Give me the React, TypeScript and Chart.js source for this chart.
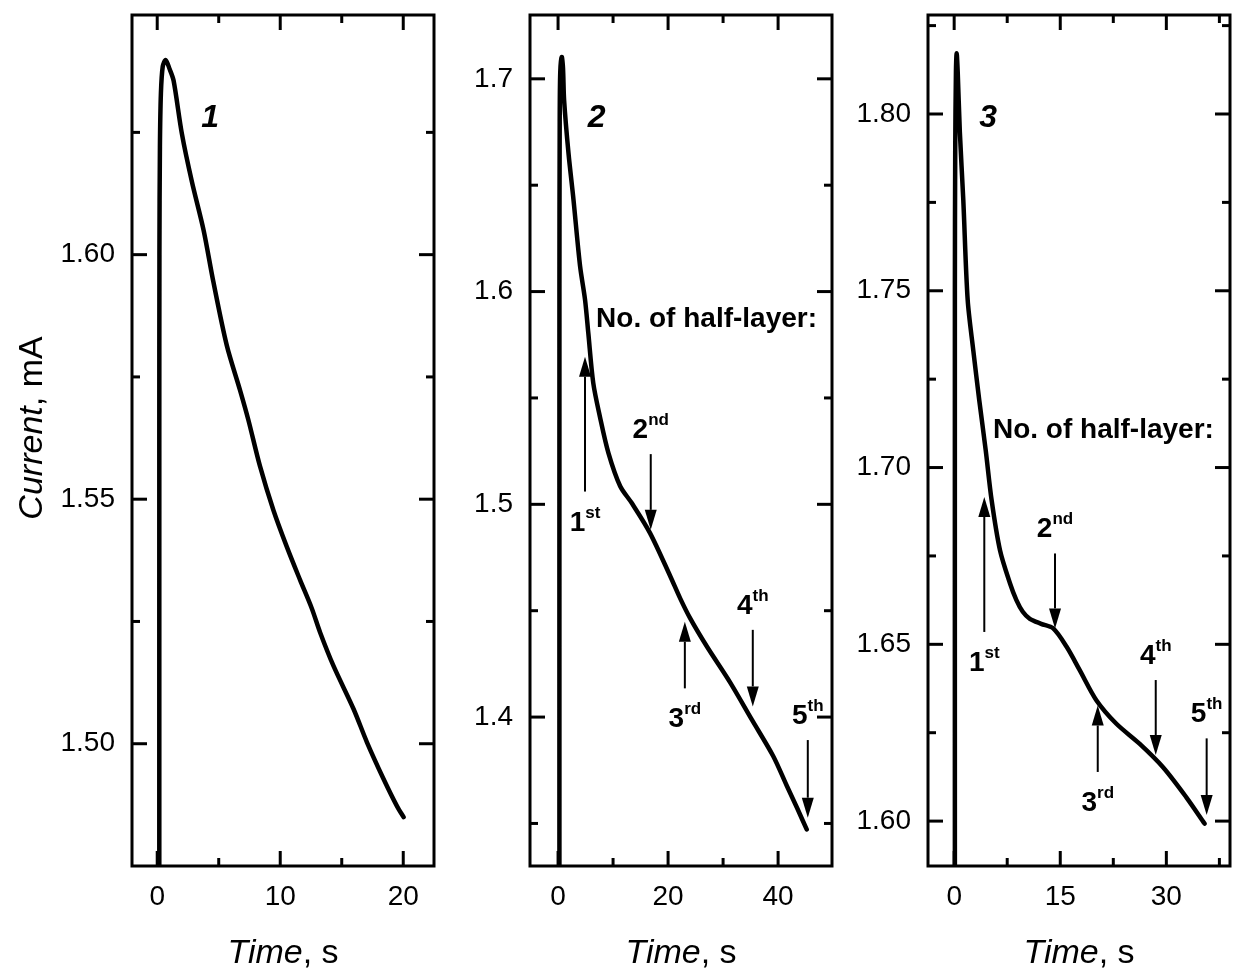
import React, { useEffect, useRef } from 'react';
import { Chart, registerables } from 'chart.js';

Chart.register(...registerables);

// ---------------- data ----------------
// Panel 1
const time1 = [0.17, 0.17, 0.18, 0.22, 0.3, 0.45, 0.69, 1.0, 1.33, 2.0, 2.82, 3.77, 4.56, 5.65, 6.73, 7.41, 8.36, 9.44, 10.53, 11.61, 12.56, 13.25, 14.33, 15.96, 17.05, 18.4, 19.5, 20.03];
const current1 = [1.475, 1.56, 1.6, 1.622, 1.633, 1.6385, 1.6398, 1.638, 1.6356, 1.6248, 1.6149, 1.605, 1.5945, 1.5815, 1.5723, 1.5662, 1.5567, 1.5478, 1.5403, 1.5335, 1.5277, 1.5227, 1.5159, 1.5071, 1.5003, 1.4928, 1.4872, 1.485];

// Panel 2
const time2 = [0.25, 0.25, 0.3, 0.4, 0.67, 0.9, 1.1, 1.9, 2.8, 4.0, 4.9, 5.5, 6.4, 7.6, 9.15, 11.3, 13.4, 16.7, 20.4, 22.2, 24.0, 27.0, 31.3, 35.2, 39.1, 41.6, 43.5, 45.2];
const current2 = [1.33, 1.6, 1.68, 1.703, 1.7103, 1.705, 1.69, 1.665, 1.6433, 1.612, 1.5963, 1.5805, 1.557, 1.5413, 1.5242, 1.5085, 1.5006, 1.4866, 1.4662, 1.4558, 1.4465, 1.4334, 1.4162, 1.3989, 1.3817, 1.3676, 1.357, 1.3472];

// Panel 3
const time3 = [0.1, 0.1, 0.15, 0.25, 0.35, 0.5, 0.8, 1.29, 1.91, 2.7, 3.55, 4.46, 5.3, 6.48, 7.9, 8.8, 9.7, 10.7, 12.3, 14.0, 15.9, 17.75, 20.1, 22.9, 26.2, 29.5, 32.8, 35.4];
const current3 = [1.5873, 1.75, 1.79, 1.812, 1.8172, 1.812, 1.795, 1.7757, 1.7474, 1.7332, 1.719, 1.7049, 1.6907, 1.6766, 1.6672, 1.6625, 1.6592, 1.6572, 1.6558, 1.6545, 1.6493, 1.6427, 1.6342, 1.6276, 1.6219, 1.6153, 1.6068, 1.5993];

// axis ticks
const xMajor1 = [0, 10, 20];
const xMinor1 = [5, 15];
const yMajor1 = [1.5, 1.55, 1.6];
const yMinor1 = [1.525, 1.575, 1.625];

const xMajor2 = [0, 20, 40];
const xMinor2 = [10, 30];
const yMajor2 = [1.4, 1.5, 1.6, 1.7];
const yMinor2 = [1.35, 1.45, 1.55, 1.65];

const xMajor3 = [0, 15, 30];
const xMinor3 = [7.5, 22.5, 37.5];
const yMajor3 = [1.6, 1.65, 1.7, 1.75, 1.8];
const yMinor3 = [1.625, 1.675, 1.725, 1.775, 1.825];

// panel labels (curve numbers)
const panelLabels = ['1', '2', '3'];
const panelLabelTime = [4.3, 7.0, 4.8];
const panelLabelCurrent = [1.6262, 1.6775, 1.7964];

// heading for arrows
const headingText = 'No. of half-layer:';
const headingTime2 = 27.0;
const headingCurrent2 = 1.5833;
const headingTime3 = 21.1;
const headingCurrent3 = 1.7083;

// arrows: tail and tip in data units
const arrowNum = ['1', '2', '3', '4', '5'];
const arrowSup = ['st', 'nd', 'rd', 'th', 'th'];
const arrowTime2 = [4.9, 16.85, 23.05, 35.4, 45.4];
const arrowTail2 = [1.506, 1.5236, 1.4135, 1.441, 1.3892];
const arrowTip2 = [1.5694, 1.488, 1.4448, 1.405, 1.3527];
const arrowTime3 = [4.26, 14.26, 20.3, 28.5, 35.7];
const arrowTail3 = [1.6535, 1.6757, 1.6139, 1.6399, 1.6234];
const arrowTip3 = [1.6917, 1.6545, 1.6327, 1.6187, 1.6017];

// ---------------- layout ----------------
const W = 1233;
const H = 970;
const FONT = '"Liberation Sans", Arial, Helvetica, sans-serif';
const PLOT_TOP = 15;
const PLOT_BOTTOM = 866;
const Y_AXIS_W = 100;

type Panel = {
  time: number[];
  current: number[];
  left: number;
  right: number;
  xMin: number;
  xMax: number;
  yMin: number;
  yMax: number;
  xMajor: number[];
  xMinor: number[];
  yMajor: number[];
  yMinor: number[];
  yDecimals: number;
  label: number;
  yTitle: boolean;
  heading?: [number, number];
  arrows?: { t: number[]; tail: number[]; tip: number[] };
};

const panels: Panel[] = [
  {
    time: time1, current: current1, left: 132, right: 434,
    xMin: -2.05, xMax: 22.5, yMin: 1.475, yMax: 1.649,
    xMajor: xMajor1, xMinor: xMinor1, yMajor: yMajor1, yMinor: yMinor1,
    yDecimals: 2, label: 0, yTitle: true,
  },
  {
    time: time2, current: current2, left: 530, right: 832,
    xMin: -5.1, xMax: 49.8, yMin: 1.33, yMax: 1.73,
    xMajor: xMajor2, xMinor: xMinor2, yMajor: yMajor2, yMinor: yMinor2,
    yDecimals: 1, label: 1, yTitle: false,
    heading: [headingTime2, headingCurrent2],
    arrows: { t: arrowTime2, tail: arrowTail2, tip: arrowTip2 },
  },
  {
    time: time3, current: current3, left: 928, right: 1230,
    xMin: -3.7, xMax: 39, yMin: 1.5873, yMax: 1.828,
    xMajor: xMajor3, xMinor: xMinor3, yMajor: yMajor3, yMinor: yMinor3,
    yDecimals: 2, label: 2, yTitle: false,
    heading: [headingTime3, headingCurrent3],
    arrows: { t: arrowTime3, tail: arrowTail3, tip: arrowTip3 },
  },
];

function drawParts(ctx: CanvasRenderingContext2D, parts: [string, string][], x: number, y: number) {
  let total = 0;
  const widths = parts.map(([t, f]) => {
    ctx.font = f;
    const w = ctx.measureText(t).width;
    total += w;
    return w;
  });
  let cx = x - total / 2;
  ctx.textAlign = 'left';
  ctx.textBaseline = 'alphabetic';
  parts.forEach(([t, f], i) => {
    ctx.font = f;
    ctx.fillText(t, cx, y);
    cx += widths[i];
  });
}

function makeDecor(p: Panel, idx: number) {
  return {
    id: 'decor' + idx,
    afterDatasetsDraw(chart: any) {
      const { ctx, chartArea: a, scales } = chart;
      const xs = scales.x;
      const ys = scales.y;
      ctx.save();
      ctx.strokeStyle = '#000';
      ctx.fillStyle = '#000';
      ctx.lineCap = 'butt';

      const line = (x1: number, y1: number, x2: number, y2: number) => {
        ctx.beginPath();
        ctx.moveTo(x1, y1);
        ctx.lineTo(x2, y2);
        ctx.stroke();
      };

      // inward ticks
      ctx.lineWidth = 3;
      const xt: [number[], number][] = [[p.xMajor, 15], [p.xMinor, 8]];
      xt.forEach(([vals, len]) => vals.forEach((v) => {
        const px = xs.getPixelForValue(v);
        if (px < a.left || px > a.right) return;
        line(px, a.bottom, px, a.bottom - len);
        line(px, a.top, px, a.top + len);
      }));
      const yt: [number[], number][] = [[p.yMajor, 15], [p.yMinor, 8]];
      yt.forEach(([vals, len]) => vals.forEach((v) => {
        const py = ys.getPixelForValue(v);
        if (py < a.top || py > a.bottom) return;
        line(a.left, py, a.left + len, py);
        line(a.right, py, a.right - len, py);
      }));

      // frame
      ctx.lineWidth = 3;
      ctx.strokeRect(a.left, a.top, a.right - a.left, a.bottom - a.top);

      // curve number
      ctx.font = `italic bold 32px ${FONT}`;
      ctx.textAlign = 'center';
      ctx.textBaseline = 'alphabetic';
      ctx.fillText(
        panelLabels[p.label],
        xs.getPixelForValue(panelLabelTime[p.label]),
        ys.getPixelForValue(panelLabelCurrent[p.label])
      );

      // heading
      if (p.heading) {
        ctx.font = `bold 28px ${FONT}`;
        ctx.textAlign = 'center';
        ctx.fillText(headingText, xs.getPixelForValue(p.heading[0]), ys.getPixelForValue(p.heading[1]));
      }

      // arrows
      if (p.arrows) {
        const { t, tail, tip } = p.arrows;
        t.forEach((tv, i) => {
          const x = xs.getPixelForValue(tv);
          const yTail = ys.getPixelForValue(tail[i]);
          const yTip = ys.getPixelForValue(tip[i]);
          const dir = yTip < yTail ? -1 : 1; // -1 up
          const headLen = 20;
          const headHalf = 6;
          ctx.lineWidth = 2;
          line(x, yTail, x, yTip - dir * headLen);
          ctx.beginPath();
          ctx.moveTo(x, yTip);
          ctx.lineTo(x - headHalf, yTip - dir * headLen);
          ctx.lineTo(x + headHalf, yTip - dir * headLen);
          ctx.closePath();
          ctx.fill();
          // label
          const base = dir < 0 ? yTail + 39 : yTail - 16;
          const mainFont = `bold 28px ${FONT}`;
          const supFont = `bold 17px ${FONT}`;
          ctx.font = mainFont;
          const w1 = ctx.measureText(arrowNum[i]).width;
          ctx.font = supFont;
          const w2 = ctx.measureText(arrowSup[i]).width;
          const start = x - (w1 + w2) / 2;
          ctx.textAlign = 'left';
          ctx.textBaseline = 'alphabetic';
          ctx.font = mainFont;
          ctx.fillText(arrowNum[i], start, base);
          ctx.font = supFont;
          ctx.fillText(arrowSup[i], start + w1, base - 13);
        });
      }

      // x axis title
      const cx = (a.left + a.right) / 2;
      drawParts(ctx, [['Time', `italic 34px ${FONT}`], [', s', `34px ${FONT}`]], cx, 963);

      // y axis title
      if (p.yTitle) {
        ctx.save();
        ctx.translate(42, 428);
        ctx.rotate(-Math.PI / 2);
        drawParts(ctx, [['Current', `italic 34px ${FONT}`], [', mA', `34px ${FONT}`]], 0, 0);
        ctx.restore();
      }
      ctx.restore();
    },
  };
}

function zeroPad(s: any) {
  s.paddingTop = 0;
  s.paddingBottom = 0;
  s.paddingLeft = 0;
  s.paddingRight = 0;
}

function buildConfig(p: Panel, idx: number): any {
  return {
    type: 'line',
    data: {
      datasets: [
        {
          data: p.time.map((t, i) => ({ x: t, y: p.current[i] })),
          borderColor: '#000',
          borderWidth: 4.5,
          pointRadius: 0,
          tension: 0.3,
          fill: false,
          borderJoinStyle: 'round',
          borderCapStyle: 'round',
        },
      ],
    },
    options: {
      responsive: false,
      animation: false,
      events: [],
      layout: {
        padding: { left: p.left - Y_AXIS_W, right: W - p.right, top: PLOT_TOP, bottom: 0 },
      },
      plugins: { legend: { display: false }, tooltip: { enabled: false } },
      scales: {
        x: {
          type: 'linear',
          min: p.xMin,
          max: p.xMax,
          grid: { display: false, drawTicks: false },
          border: { display: false },
          afterBuildTicks: (s: any) => {
            s.ticks = p.xMajor.map((v) => ({ value: v }));
          },
          afterFit: (s: any) => {
            s.height = H - PLOT_BOTTOM;
            zeroPad(s);
          },
          ticks: {
            autoSkip: false,
            maxRotation: 0,
            minRotation: 0,
            padding: 14,
            color: '#000',
            font: { family: FONT, size: 28 },
            callback: (v: any) => String(Math.round(Number(v))),
          },
        },
        y: {
          type: 'linear',
          min: p.yMin,
          max: p.yMax,
          grid: { display: false, drawTicks: false },
          border: { display: false },
          afterBuildTicks: (s: any) => {
            s.ticks = p.yMajor.map((v) => ({ value: v }));
          },
          afterFit: (s: any) => {
            s.width = Y_AXIS_W;
            zeroPad(s);
          },
          ticks: {
            autoSkip: false,
            padding: 17,
            color: '#000',
            font: { family: FONT, size: 28 },
            callback: (v: any) => Number(v).toFixed(p.yDecimals),
          },
        },
      },
    },
    plugins: [makeDecor(p, idx)],
  };
}

function PanelCanvas({ p, idx }: { p: Panel; idx: number }) {
  const ref = useRef<HTMLCanvasElement | null>(null);
  useEffect(() => {
    if (!ref.current) return;
    const chart = new Chart(ref.current, buildConfig(p, idx));
    return () => chart.destroy();
  }, [p, idx]);
  return (
    <canvas
      ref={ref}
      width={W}
      height={H}
      style={{ position: 'absolute', left: 0, top: 0, width: W, height: H }}
    />
  );
}

export default function App() {
  return (
    <div style={{ position: 'absolute', left: 0, top: 0, width: W, height: H, background: '#fff' }}>
      {panels.map((p, i) => (
        <PanelCanvas key={i} p={p} idx={i} />
      ))}
    </div>
  );
}
